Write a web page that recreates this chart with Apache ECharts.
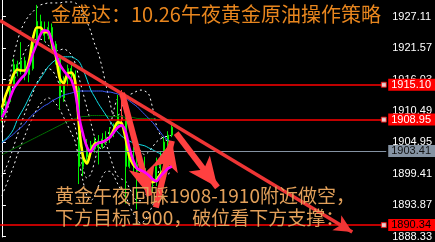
<!DOCTYPE html>
<html><head><meta charset="utf-8">
<script src="https://cdn.jsdelivr.net/npm/echarts@6/dist/echarts.min.js"></script>
<style>html,body{margin:0;padding:0;background:#000;}#c{width:435px;height:242px;}</style>
</head><body><div id="c"></div>
<script>
// ---- data ----
const slotCount = 100; // visible bar slots (the right part is empty future space)
const barLabels = Array.from({length: slotCount}, (_, i) => 'B' + (i + 1));

// [open, close, low, high]
const ohlc = [
 [1909.32,1910.71,1908.46,1911.40],[1910.71,1912.09,1909.67,1912.78],[1912.09,1914.51,1911.74,1915.20],
 [1914.51,1918.65,1914.16,1919.69],[1918.65,1917.62,1916.58,1919.34],[1917.62,1919.34,1916.92,1922.62],
 [1919.34,1916.92,1915.89,1920.03],[1916.92,1917.96,1915.54,1918.82],[1917.96,1923.14,1917.62,1923.83],
 [1923.14,1926.25,1922.45,1929.19],[1926.25,1924.87,1924.18,1927.46],[1924.87,1923.83,1922.80,1926.25],
 [1923.83,1925.21,1923.14,1926.25],[1925.21,1922.28,1921.41,1925.91],[1922.28,1919.69,1918.65,1922.80],
 [1919.69,1912.78,1910.71,1920.38],[1912.78,1916.23,1912.09,1916.58],[1916.23,1917.96,1914.85,1918.65],
 [1917.96,1916.92,1916.23,1918.99],[1916.92,1914.51,1913.82,1917.62],[1914.51,1900.69,1897.58,1914.85],
 [1900.69,1902.42,1898.96,1904.14],[1902.42,1904.49,1901.04,1905.53],[1904.49,1903.80,1903.11,1905.18],
 [1903.80,1905.18,1903.11,1905.87],[1905.18,1904.14,1901.04,1906.22],[1904.14,1905.53,1903.80,1906.56],
 [1905.53,1905.87,1904.49,1906.91],[1905.87,1906.56,1904.84,1907.60],[1906.56,1907.94,1905.87,1908.29],
 [1907.94,1909.67,1907.60,1913.30],[1909.67,1908.98,1908.29,1914.16],[1908.98,1900.69,1894.13,1909.32],
 [1900.69,1902.42,1900.35,1904.49],[1902.42,1901.04,1899.65,1904.14],[1901.04,1899.83,1893.09,1904.14],
 [1899.83,1900.35,1898.27,1902.07],[1900.35,1898.96,1898.27,1902.42],[1898.96,1897.93,1896.55,1899.65],
 [1897.93,1898.27,1896.20,1898.96],[1898.27,1900.69,1897.24,1902.24],[1900.69,1902.07,1899.65,1903.28],
 [1902.07,1905.01,1900.35,1905.87],[1905.01,1906.22,1904.14,1906.91],[1906.22,1907.60,1905.87,1908.46]
];
const whiteBarIndex = 31;

const maYellow = [1911.05,1913.30,1915.03,1916.92,1917.79,1917.62,1917.62,1919.17,1923.14,1925.21,
 1925.21,1924.35,1924.35,1922.28,1920.03,1916.23,1915.37,1917.10,1917.27,1915.54,
 1907.60,1902.42,1901.21,1903.28,1904.66,1904.84,1905.01,1905.35,1905.87,1907.25,
 1908.46,1908.29,1905.70,1902.42,1901.04,1900.35,1899.83,1899.31,1898.45,1897.93,
 1898.27,1899.31,1900.17,1900.52,1900.69];
const maMagenta = [1909.33,1910.71,1912.61,1914.33,1915.37,1916.23,1916.92,1918.48,1920.55,1922.28,
 1924.01,1924.70,1924.52,1922.62,1920.38,1918.65,1917.62,1916.75,1915.89,1913.64,
 1909.33,1906.39,1904.14,1903.28,1904.32,1904.84,1905.01,1905.35,1905.87,1906.74,
 1907.60,1907.94,1906.91,1903.97,1901.73,1900.35,1900.00,1899.65,1899.14,1898.45,
 1898.10,1898.96,1899.65,1900.35,1900.69];
const maCyan = [1905.01,1905.53,1906.22,1907.25,1908.98,1910.19,1911.40,1912.78,1914.16,1915.20,
 1916.23,1917.27,1918.31,1919.00,1919.52,1919.86,1920.03,1920.03,1920.03,1919.69,
 1919.17,1917.79,1916.06,1914.16,1912.95,1911.74,1910.71,1909.67,1908.64,1907.60,
 1906.74,1906.04,1905.53,1905.18,1904.84,1904.66,1904.49,1904.32,1903.97,1903.63,
 1903.28,1902.94,1902.59,1902.42,1902.25];
const maBlue = [1904.84,1905.35,1905.87,1906.39,1907.08,1907.60,1908.29,1909.15,1909.84,1910.36,
 1910.88,1911.40,1911.74,1912.26,1912.61,1912.95,1913.30,1913.47,1913.64,1913.82,
 1913.99,1913.99,1913.99,1913.99,1913.99,1913.99,1913.99,1913.82,1913.82,1913.64,
 1913.47,1913.13,1912.78,1912.26,1911.74,1911.23,1910.53,1909.84,1909.15,1908.46,
 1907.60,1906.74,1905.87,1905.35,1904.84];
const maGreen = [1902.76,1903.11,1903.45,1903.80,1904.14,1904.49,1904.84,1905.18,1905.53,1905.87,
 1906.22,1906.56,1906.91,1907.25,1907.60,1907.94,1908.29,1908.64,1908.81,1909.15,
 1909.33,1909.50,1909.50,1909.67,1909.67,1909.67,1909.67,1909.67,1909.50,1909.50,
 1909.50,1909.50,1909.33,1909.33,1909.33,1909.15,1909.15,1909.15,1909.15,1909.15,
 1908.98,1908.98,1908.98,1908.98,1908.98];
const bandUpperOuter = [1909.67,1912.78,1916.23,1920.03,1922.80,1924.87,1926.25,1927.29,1927.98,1928.67,
 1929.19,1929.36,1929.53,1929.53,1929.53,1929.53,1929.70,1929.70,1929.70,1929.53,
 1929.01,1927.63,1926.25,1924.52,1922.28,1920.55,1917.96,1914.85,1911.92,1909.67,
 1909.67,1911.05,1912.43,1913.30,1913.64,1913.99,1914.16,1913.99,1913.47,1911.05,
 1907.94,1906.22,1905.53,1905.18,1905.01];
const bandUpperInner = [1906.74,1909.33,1912.43,1915.37,1917.96,1919.69,1921.07,1922.11,1922.80,1923.14,
 1923.14,1922.80,1922.11,1921.41,1921.07,1921.24,1921.41,1921.07,1920.38,1918.82,
 1916.23,1913.64,1911.05,1908.46,1905.87,1904.14,1903.80,1905.01,1907.60,1910.71,
 1912.78,1913.30,1911.92,1909.33,1906.74,1904.49,1903.28,1902.76,1903.28,1904.14,
 1905.01,1905.53,1905.87,1906.04,1906.22];
const bandLowerInner = [1898.96,1900.35,1902.07,1904.14,1906.22,1908.29,1910.19,1911.92,1913.64,1915.37,
 1916.58,1917.62,1917.96,1917.62,1916.58,1914.85,1912.78,1911.05,1909.33,1907.60,
 1904.14,1900.35,1898.62,1899.31,1901.55,1904.14,1905.01,1904.49,1902.42,1900.35,
 1898.96,1898.45,1898.10,1896.89,1895.51,1894.65,1894.65,1895.51,1896.37,1897.24,
 1898.62,1900.69,1902.42,1903.28,1903.80];
const bandLowerOuter = [1895.51,1897.24,1898.96,1900.69,1902.76,1904.49,1906.22,1907.94,1909.33,1910.71,
 1911.74,1912.43,1912.78,1912.43,1911.74,1910.71,1909.33,1907.94,1906.56,1905.01,
 1901.55,1898.10,1895.51,1894.65,1895.51,1897.24,1898.96,1899.83,1899.83,1898.96,
 1897.58,1896.37,1895.51,1893.78,1892.40,1891.19,1890.67,1891.19,1892.40,1893.78,
 1895.51,1897.24,1898.62,1899.31,1899.83];

const tickValues = [1888.33,1893.87,1899.41,1904.95,1910.49,1916.03,1921.57,1927.11];
const redLevels = [1915.10, 1908.95, 1890.34];
const redLevelTextColors = ['#ffffff', '#ffffff', '#000000'];
const bidLevel = 1903.41;

// analysis arrows: [[barIndex, price] start, [barIndex, price] end]
const trendLine = [[-0.5, 1926.42], [90.7, 1889.12]];
const arrows = [
  [[31.1, 1913.64], [38.2, 1895.5]],
  [[39.85, 1893.44], [44.0, 1905.2]],
  [[45.1, 1906.56], [55.8, 1897.0]]
];

const titleText = '金盛达：10.26午夜黄金原油操作策略';
const noteLines = ['黄金午夜回踩1908-1910附近做空，', '下方目标1900，破位看下方支撑：'];

// ---- chart ----
const chart = echarts.init(document.getElementById('c'), null, {renderer: 'canvas'});
const candleData = ohlc.map((v, i) => i === whiteBarIndex
  ? {value: v, itemStyle: {color: '#ffffff', color0: '#ffffff', borderColor: '#ff4040', borderColor0: '#ff4040'}}
  : v);

function dashed(data) {
  return {type: 'line', data, symbol: 'none', smooth: 0.3, silent: true, z: 1,
    lineStyle: {color: '#ffffff', width: 1, type: [2, 3]}};
}
function ma(data, color, width, z) {
  return {type: 'line', data, symbol: 'none', smooth: 0.3, silent: true, z,
    lineStyle: {color, width}};
}
const edgeIndex = slotCount - 1.13;

const option = {
  backgroundColor: '#000000',
  animation: false,
  grid: {left: 0, right: 36, top: 0, bottom: 0, containLabel: false},
  xAxis: [
    {type: 'category', data: barLabels, boundaryGap: true, show: false},
    {type: 'value', min: -0.5, max: slotCount - 0.5, show: false}
  ],
  yAxis: {
    type: 'value', position: 'right', min: 1888.25, max: 1930.05, scale: true,
    splitLine: {show: false},
    axisLine: {show: true, lineStyle: {color: '#ffffff', width: 1}},
    axisTick: {show: true, length: 4, inside: false, customValues: tickValues, lineStyle: {color: '#ffffff'}},
    axisLabel: {show: true, customValues: tickValues, margin: 6, color: '#ffffff',
      fontFamily: 'Liberation Sans', fontSize: 11, formatter: v => v.toFixed(2)}
  },
  graphic: [
    {type: 'text', left: 51, top: 4, z: 100, style: {text: titleText, fill: '#e8861e',
      font: '20px "Noto Sans CJK SC"'}},
    {type: 'text', left: 55, top: 186, z: 100, style: {text: noteLines[0], fill: '#e2a05a',
      font: '19px "Noto Sans CJK SC"'}},
    {type: 'text', left: 55, top: 208, z: 100, style: {text: noteLines[1], fill: '#e2a05a',
      font: '19px "Noto Sans CJK SC"'}}
  ],
  series: [
    dashed(bandUpperOuter), dashed(bandUpperInner), dashed(bandLowerInner), dashed(bandLowerOuter),
    {type: 'candlestick', data: candleData, barWidth: 1.5, silent: true, z: 2,
      itemStyle: {color: '#00f000', color0: '#00f000', borderColor: '#00f000', borderColor0: '#00f000', borderWidth: 1},
      markLine: {silent: true, symbol: ['none', 'none'], animation: false,
        data: redLevels.map((v, i) => ({yAxis: v,
            lineStyle: {color: '#ff0000', width: 1.5, type: 'solid'},
            label: {show: true, position: 'end', distance: 2, formatter: p => Number(p.value).toFixed(2),
              backgroundColor: '#ff0000', color: redLevelTextColors[i], padding: [1, 4, 0, 3],
              fontFamily: 'Liberation Sans', fontSize: 11}}))
          .concat([{yAxis: bidLevel,
            lineStyle: {color: '#8593a3', width: 1, type: 'solid'},
            label: {show: true, position: 'end', distance: 2, formatter: p => Number(p.value).toFixed(2),
              backgroundColor: '#8593a3', color: '#111111', padding: [1, 4, 0, 3],
              fontFamily: 'Liberation Sans', fontSize: 11}}])
      }},
    ma(maGreen, '#007000', 1, 3),
    ma(maBlue, '#3b5cff', 1, 3),
    ma(maCyan, '#10e0e8', 1, 3),
    ma(maYellow, '#ffff00', 2.6, 4),
    ma(maMagenta, '#ff00ff', 2.6, 5),
    {type: 'scatter', xAxisIndex: 1, silent: true, z: 6, symbol: 'rect', symbolSize: 5,
      data: redLevels.map(v => [edgeIndex, v]),
      itemStyle: {color: '#ffffff', borderColor: '#ff0000', borderWidth: 1}},
    {type: 'line', xAxisIndex: 1, data: [], silent: true, z: 10,
      markLine: {silent: true, animation: false, label: {show: false},
        data: [
          [{coord: trendLine[0], symbol: 'none'},
           {coord: trendLine[1], symbol: 'arrow', symbolSize: [13, 18],
            lineStyle: {color: '#ee3535', width: 3.5, type: 'solid'}}]
        ].concat(arrows.map(a => [
          {coord: a[0], symbol: 'none'},
          {coord: a[1], symbol: 'arrow', symbolSize: [20, 30],
           lineStyle: {color: '#ff4040', width: 6, type: 'solid'}}
        ])),
        lineStyle: {color: '#ff4040', width: 4, type: 'solid'}
      }}
  ]
};
chart.setOption(option);
</script></body></html>
